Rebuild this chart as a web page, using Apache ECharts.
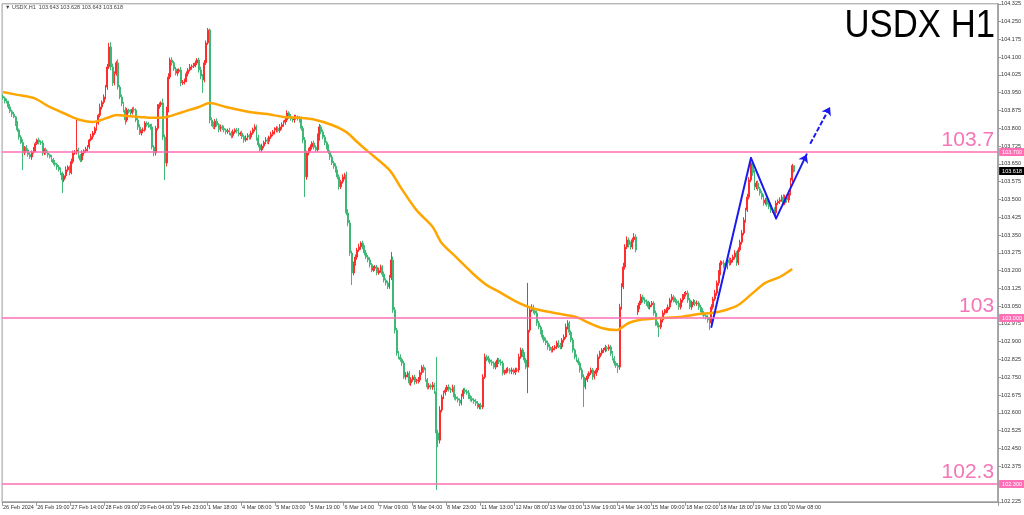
<!DOCTYPE html>
<html><head><meta charset="utf-8">
<script src="https://cdn.jsdelivr.net/npm/echarts/dist/echarts.min.js"></script>
<style>html,body{margin:0;padding:0;background:#fff}#c{width:1024px;height:515px}</style>
</head><body><div id="c"></div><script>
// ---- data ----
const tickLabels = ['26 Feb 2024','26 Feb 19:00','27 Feb 14:00','28 Feb 09:00','29 Feb 04:00','29 Feb 23:00','1 Mar 18:00','4 Mar 08:00','5 Mar 03:00','5 Mar 19:00','6 Mar 14:00','7 Mar 09:00','8 Mar 04:00','8 Mar 23:00','11 Mar 13:00','12 Mar 08:00','13 Mar 03:00','13 Mar 19:00','14 Mar 14:00','15 Mar 09:00','18 Mar 02:00','18 Mar 18:00','19 Mar 13:00','20 Mar 08:00'];
const firstOpen = 103.935;
const gapOpens = {353: 103.025};
const closes = [
103.928,103.915,103.911,103.890,103.872,103.860,103.848,103.820,103.793,103.763,103.740,103.696,103.720,103.709,103.690,103.679,103.700,103.709,103.735,103.751,
103.742,103.738,103.696,103.710,103.696,103.688,103.679,103.668,103.654,103.648,103.637,103.625,103.612,103.582,103.600,103.625,103.637,103.612,103.660,103.696,
103.700,103.709,103.685,103.666,103.696,103.705,103.712,103.721,103.751,103.765,103.780,103.800,103.822,103.855,103.890,103.910,103.932,103.974,104.059,104.143,
104.059,103.991,104.030,104.076,103.974,103.932,103.905,103.877,103.835,103.877,103.870,103.865,103.880,103.877,103.835,103.805,103.780,103.790,103.793,103.822,
103.815,103.810,103.806,103.721,103.696,103.800,103.890,103.900,103.907,103.763,103.654,103.877,104.016,104.088,104.076,104.050,104.033,104.040,104.046,103.991,
103.995,104.004,104.030,104.046,104.059,104.062,104.067,104.075,104.088,104.046,104.020,104.004,104.076,104.160,104.215,103.835,103.820,103.806,103.830,103.815,
103.795,103.806,103.800,103.793,103.785,103.790,103.780,103.770,103.785,103.793,103.790,103.775,103.780,103.765,103.751,103.758,103.770,103.763,103.780,103.795,
103.806,103.760,103.730,103.709,103.725,103.740,103.751,103.745,103.763,103.775,103.785,103.793,103.800,103.790,103.806,103.815,103.825,103.835,103.865,103.850,
103.840,103.835,103.845,103.848,103.840,103.835,103.800,103.751,103.595,103.696,103.710,103.721,103.738,103.720,103.709,103.760,103.806,103.785,103.763,103.740,
103.721,103.700,103.679,103.654,103.640,103.620,103.595,103.553,103.575,103.595,103.603,103.443,103.401,103.274,103.190,103.230,103.257,103.287,103.300,103.316,
103.299,103.275,103.257,103.245,103.225,103.202,103.210,103.215,103.190,103.200,103.215,103.185,103.160,103.148,103.131,103.170,103.245,103.034,102.949,102.852,
102.836,102.825,102.810,102.751,102.760,102.768,102.726,102.740,102.751,102.730,102.735,102.739,102.770,102.793,102.781,102.740,102.709,102.715,102.709,102.718,
102.690,102.515,102.485,102.612,102.667,102.685,102.696,102.709,102.700,102.696,102.709,102.667,102.660,102.654,102.641,102.670,102.696,102.690,102.684,102.667,
102.660,102.654,102.648,102.641,102.625,102.632,102.625,102.751,102.836,102.830,102.823,102.815,102.810,102.793,102.805,102.823,102.815,102.810,102.768,102.775,
102.781,102.781,102.775,102.781,102.770,102.780,102.781,102.836,102.865,102.845,102.823,102.793,102.949,103.034,103.046,103.030,103.021,102.979,102.962,102.940,
102.920,102.905,102.895,102.878,102.870,102.865,102.872,102.878,102.895,102.885,102.878,102.907,102.920,102.962,102.979,102.940,102.907,102.865,102.836,102.823,
102.810,102.781,102.751,102.709,102.739,102.755,102.768,102.781,102.751,102.765,102.781,102.836,102.852,102.865,102.865,102.875,102.870,102.878,102.850,102.830,
102.810,102.800,102.793,103.046,103.131,103.215,103.299,103.329,103.310,103.299,103.330,103.342,103.287,103.046,103.063,103.089,103.076,103.070,103.063,103.046,
103.055,103.063,103.021,102.979,102.970,102.962,102.992,103.021,103.030,103.034,103.046,103.076,103.089,103.076,103.070,103.063,103.046,103.076,103.089,103.100,
103.105,103.076,103.046,103.063,103.067,103.060,103.063,103.046,103.034,103.021,103.010,103.004,102.992,102.979,103.046,103.080,103.105,103.148,103.190,103.232,
103.232,103.220,103.215,103.245,103.232,103.245,103.257,103.274,103.232,103.287,103.320,103.358,103.413,103.455,103.510,103.582,103.654,103.612,103.553,103.569,
103.545,103.527,103.510,103.485,103.498,103.480,103.468,103.455,103.455,103.443,103.485,103.492,103.498,103.510,103.485,103.510,103.498,103.527,103.582,103.643,
103.618];
// wick lengths in 0.001 price units
const upperWick = [
8,6,10,5,12,7,9,4,11,6,8,14,5,9,7,10,6,12,8,5,
9,7,11,6,8,10,5,9,7,12,6,8,10,5,9,14,7,6,12,10,
8,126,9,7,11,6,10,8,5,12,9,7,10,6,14,8,11,9,12,17,
20,14,10,8,15,9,11,7,12,9,6,10,8,11,7,9,12,6,10,8,
7,11,9,13,8,10,12,9,7,18,11,14,16,10,12,8,9,11,7,13,
9,6,10,8,12,7,9,11,8,10,14,9,12,10,8,6,11,8,9,12,
7,10,8,11,6,9,12,8,10,7,9,11,6,10,8,12,9,7,10,8,
11,9,13,7,10,8,12,9,6,10,8,11,9,7,12,10,8,9,11,7,
10,8,12,9,6,11,14,10,12,9,8,11,7,10,9,18,12,8,10,9,
7,11,8,10,9,12,6,10,8,11,9,14,16,12,10,8,11,9,13,7,
10,8,12,9,11,7,10,8,9,12,10,8,11,7,9,12,33,14,12,10,
9,11,8,10,12,7,9,11,8,10,9,12,10,8,11,9,7,10,8,12,
9,146,14,16,10,8,12,9,11,7,10,8,12,9,7,11,8,10,9,12,
7,10,8,11,9,6,10,12,14,9,11,8,10,7,12,9,8,11,10,7,
9,12,8,10,7,11,9,13,10,8,11,9,199,16,12,10,8,11,9,7,
10,8,12,9,11,7,10,8,9,12,10,8,11,14,12,9,8,10,7,11,
9,8,10,12,9,11,7,10,8,12,9,11,10,8,9,12,7,10,8,11,
9,8,10,14,16,18,12,15,10,12,9,16,11,8,10,12,9,11,8,10,
12,9,8,11,7,10,9,12,8,10,11,9,12,8,10,9,11,7,12,10,
9,11,8,10,12,9,11,8,10,7,9,11,8,10,12,9,14,10,12,11,
9,12,10,8,11,9,10,12,8,11,10,13,12,10,14,12,25,10,12,9,
11,8,10,12,9,11,8,10,9,12,10,8,11,9,12,10,8,11,9,7,
0];
const lowerWick = [
7,10,6,9,8,12,5,10,8,11,7,72,9,6,10,8,12,7,9,6,
10,8,12,9,7,11,6,10,8,9,12,7,10,55,9,11,8,10,6,9,
8,10,12,9,7,11,8,10,9,6,12,8,10,7,9,11,8,10,12,9,
14,12,10,8,11,9,12,10,20,9,8,11,7,10,9,12,8,10,11,7,
9,8,12,10,14,11,9,8,10,12,72,15,10,9,11,8,10,12,9,14,
8,10,9,11,7,12,8,10,9,11,13,55,10,9,8,14,11,9,10,8,
12,9,7,10,11,8,9,12,10,8,11,9,7,10,12,8,9,11,10,7,
9,12,10,8,11,9,7,10,12,8,9,11,10,7,9,12,8,10,9,11,
8,10,12,9,7,11,10,14,85,12,10,8,11,9,10,8,12,10,9,11,
10,8,12,9,11,7,10,12,9,8,11,10,14,12,51,10,9,11,8,12,
9,11,8,10,12,9,7,11,10,8,9,12,10,11,9,8,10,12,14,11,
10,9,12,8,11,10,9,12,8,10,7,11,9,10,12,8,10,9,11,12,
10,240,30,14,10,9,11,8,10,12,9,11,8,10,12,9,11,10,8,9,
11,9,10,12,8,10,11,9,8,12,10,9,11,8,10,12,9,11,10,8,
9,11,10,12,8,10,9,11,8,10,12,9,110,10,9,11,8,12,10,9,
11,8,10,12,9,11,10,8,9,12,10,9,11,8,10,12,9,11,10,8,
9,11,10,84,10,9,11,8,12,10,9,11,8,10,12,9,11,8,10,9,
11,10,25,12,10,9,11,8,12,10,9,11,10,12,9,8,11,10,12,9,
10,8,11,12,10,42,9,11,8,10,12,9,11,10,8,9,12,10,11,9,
10,12,9,11,8,10,9,12,10,11,9,10,12,30,8,10,9,11,12,10,
9,11,8,10,12,9,11,10,12,9,8,10,9,11,8,10,9,12,14,10,
9,11,10,12,8,10,9,11,12,8,10,9,11,8,10,9,11,12,10,9,
5];
// moving average read at points [bar index, price]
const maPoints = [[0,103.953],[8,103.941],[17,103.928],[26,103.890],[36,103.856],[43,103.835],[50,103.827],[58,103.844],[63,103.856],[69,103.852],[76,103.848],[83,103.844],[91,103.848],[100,103.869],[109,103.890],[115,103.907],[124,103.890],[137,103.869],[147,103.860],[156,103.848],[165,103.844],[174,103.835],[183,103.814],[191,103.784],[197,103.742],[202,103.709],[215,103.624],[221,103.553],[230,103.455],[239,103.384],[244,103.316],[252,103.257],[261,103.190],[269,103.139],[276,103.110],[286,103.067],[294,103.042],[304,103.025],[313,103.013],[319,103.004],[326,102.979],[333,102.958],[341,102.949],[348,102.979],[354,102.992],[365,103.000],[376,103.004],[387,103.017],[394,103.021],[402,103.034],[409,103.055],[417,103.105],[424,103.148],[432,103.173],[439,103.207]];
const levels = [103.7, 103.0, 102.3];
const levelTexts = ['103.7', '103', '102.3'];
const lastPrice = 103.618;
const arrowMain = [[393.5,102.962],[416,103.675],[429.5,103.420],[446.5,103.690]];
const arrowSecond = [[448.5,103.735],[460,103.890]];
const headerText = '\u25BC USDX,H1  103.643 103.628 103.643 103.618';
const chartTitle = 'USDX H1';

// ---- chart ----
const SLOTS = 554;
const cats = Array.from({length: SLOTS}, (_, i) => String(i));
const candleData = closes.map((c, i) => {
  const o = i === 0 ? firstOpen : (gapOpens[i] !== undefined ? gapOpens[i] : closes[i - 1]);
  const hi = Math.max(o, c) + upperWick[i] / 1000;
  const lo = Math.min(o, c) - lowerWick[i] / 1000;
  return [o, c, lo, hi];
});
const PINK = '#ff6fb5';
const PINK_TXT = '#f576b8';
const BLUE = '#1b1bf0';
const CLEAR = 'rgba(255,255,255,0)';
const markData = [];
levels.forEach((v, k) => {
  markData.push({yAxis: v, lineStyle: {color: PINK, width: 1.6, type: 'solid'},
    label: {show: true, position: 'insideEndTop', formatter: levelTexts[k], color: PINK_TXT, fontSize: 21, fontFamily: 'Liberation Sans', distance: [4, 1]}});
});
const boxData = levels.map(v => ({yAxis: v,
  label: {show: true, position: 'end', formatter: v.toFixed(3), color: '#fff', backgroundColor: PINK, fontSize: 5.5, fontFamily: 'Liberation Sans', padding: [1, 3, 1, 3], distance: 1}}));
boxData.push({yAxis: lastPrice,
  label: {show: true, position: 'end', formatter: lastPrice.toFixed(3), color: '#fff', backgroundColor: '#000', fontSize: 5.5, fontFamily: 'Liberation Sans', padding: [1, 3, 1, 3], distance: 1}});

const isTick = (idx) => idx % 19 === 0 && idx / 19 < tickLabels.length;
const chart = echarts.init(document.getElementById('c'), null, {renderer: 'canvas'});
chart.setOption({
  animation: false,
  backgroundColor: '#fff',
  grid: {left: 2, right: 25, top: 3.8, bottom: 13.2, show: true, borderColor: '#9a9a9a', borderWidth: 1},
  xAxis: {
    type: 'category', data: cats, boundaryGap: true,
    axisLine: {lineStyle: {color: '#9a9a9a'}},
    axisTick: {show: true, interval: (i) => isTick(i), length: 4, lineStyle: {color: '#9a9a9a'}},
    axisLabel: {interval: (i) => isTick(i), formatter: (v, i) => tickLabels[i / 19] || '', fontSize: 5.5, color: '#333', align: 'left', margin: 3, fontFamily: 'Liberation Sans'},
    splitLine: {show: false}
  },
  yAxis: {
    type: 'value', position: 'right', min: 102.225, max: 104.325, interval: 0.075, scale: true,
    axisLine: {show: true, lineStyle: {color: '#9a9a9a', width: 1.5}},
    axisTick: {show: true, length: 3, lineStyle: {color: '#9a9a9a'}},
    axisLabel: {formatter: (v) => v.toFixed(3), fontSize: 5.5, color: '#333', margin: 3, fontFamily: 'Liberation Sans', showMinLabel: true, showMaxLabel: true},
    splitLine: {show: false}
  },
  graphic: [
    {type: 'text', x: 995, y: 7, scaleX: 0.89, style: {text: chartTitle, fontSize: 39, fontFamily: 'Liberation Sans', fill: '#000', textAlign: 'right', textVerticalAlign: 'top'}},
    {type: 'text', x: 5, y: 4, style: {text: headerText, fontSize: 5.5, fontFamily: 'Liberation Sans', fill: '#444', textAlign: 'left', textVerticalAlign: 'top'}}
  ],
  series: [
    {
      type: 'candlestick', data: candleData, barWidth: 1.4,
      itemStyle: {color: '#ff2d2d', color0: '#3fb877', borderColor: '#ff2d2d', borderColor0: '#3fb877', borderWidth: 1},
      markLine: {silent: true, symbol: ['none', 'none'], animation: false, data: markData}
    },
    {
      type: 'line', data: maPoints, smooth: 0.3, showSymbol: false, silent: true, z: 3,
      lineStyle: {color: '#ffa500', width: 2.5}
    },
    {
      type: 'lines', coordinateSystem: 'cartesian2d', symbol: ['none', 'none'], z: 4,
      lineStyle: {color: BLUE, width: 2, opacity: 1, cap: 'round'},
      data: [{coords: [arrowMain[0], arrowMain[1]]}, {coords: [arrowMain[1], arrowMain[2]]}]
    },
    {
      type: 'lines', coordinateSystem: 'cartesian2d', symbol: ['none', 'arrow'], symbolSize: 8, z: 4,
      lineStyle: {color: BLUE, width: 2, opacity: 1, cap: 'round'},
      data: [{coords: [arrowMain[2], arrowMain[3]]}]
    },
    {
      type: 'lines', coordinateSystem: 'cartesian2d', symbol: ['none', 'arrow'], symbolSize: 8, z: 4,
      lineStyle: {color: BLUE, width: 2, opacity: 1, type: [5, 2]},
      data: [{coords: arrowSecond}]
    },
    {
      type: 'line', data: [], silent: true, z: 6,
      markLine: {silent: true, symbol: ['none', 'none'], animation: false, lineStyle: {color: CLEAR, width: 0.1}, data: boxData}
    }
  ]
});
</script></body></html>
